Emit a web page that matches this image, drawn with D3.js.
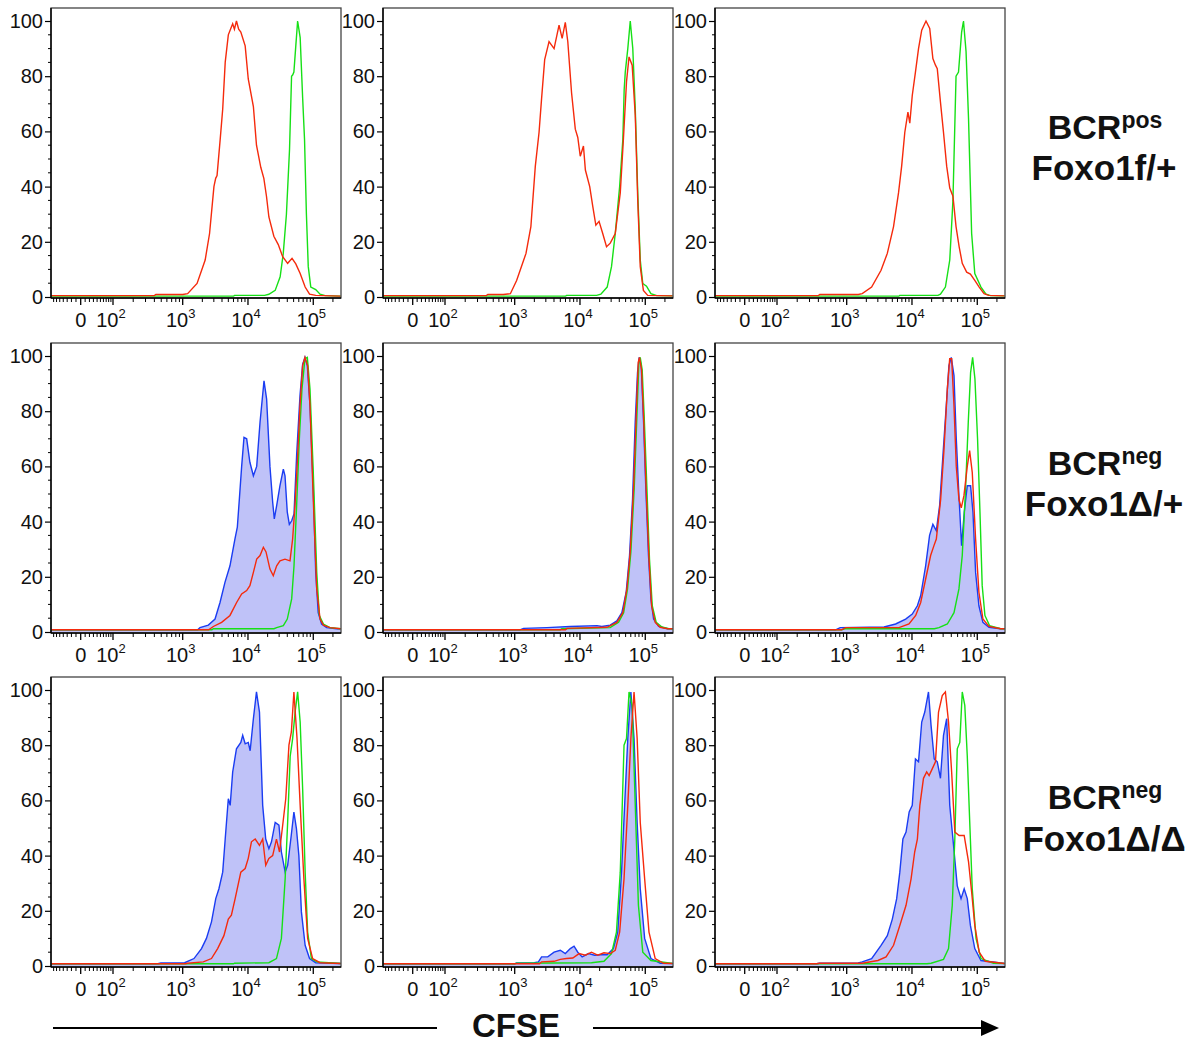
<!DOCTYPE html>
<html>
<head>
<meta charset="utf-8">
<script src="https://cdn.jsdelivr.net/npm/d3@7"></script>
<style>
  body { margin: 0; background: #fff; }
  text { font-family: "Liberation Sans", Arial, sans-serif; }
</style>
</head>
<body>
<svg id="chart"></svg>
<script>
// CFSE histograms, values are [CFSE intensity, % of max]
const r1c1Red = [[-80,0.5],[400,0.5],[420,0.9],[1000,0.9],[1190,1.2],[1660,4.9],[2210,13.4],[2580,23],[3010,40],[3200,43],[3360,44],[3750,57],[4100,68],[4480,85],[5000,95],[5400,97],[5830,99],[6200,97],[6660,100],[7200,97],[7770,96],[9060,91],[10100,79],[12100,69],[13500,55],[15700,47],[17500,43],[19200,36.5],[20900,29],[24900,22],[29100,19],[34000,14.6],[40500,12.2],[47300,14],[54000,12],[63000,8.5],[75100,3.6],[87700,1],[109000,0.6],[190000,0.4],[262144,0.3]];
const r1c1Green = [[-80,0.3],[6000,0.3],[6220,0.6],[18000,0.6],[20900,1],[26100,2.4],[31100,7.3],[34700,15.8],[38800,30],[43300,53.5],[46500,80],[48500,80.5],[50500,81.5],[54000,91],[57600,100],[63000,94],[68800,72],[73500,57],[78500,30],[83800,11],[91600,3.6],[109000,2.7],[127000,1],[152000,0.5],[262144,0.3]];

const r1c2Red = [[-80,0.5],[400,0.5],[420,0.9],[690,0.9],[870,1.2],[1070,6],[1490,15.8],[1770,25.5],[2070,47.4],[2360,59.6],[2580,71.8],[2880,86],[3360,92.5],[4010,90],[4780,98.5],[5330,93.7],[5960,99.5],[6510,92.5],[7430,74],[8480,60.8],[9260,57.8],[10100,51],[11300,54.7],[12100,46],[14100,40],[15700,32.8],[17500,26],[19600,27.4],[22300,23],[25500,18.2],[29100,19.5],[34700,23],[41400,37.7],[46200,57],[51600,78],[56400,87],[63000,84],[70300,65.7],[76700,35],[83800,11],[93600,2.4],[109000,0.6],[262144,0.4]];
const r1c2Green = [[-80,0.3],[6000,0.3],[6220,0.6],[18000,0.6],[20900,1],[26100,3.6],[30400,11],[34700,23],[40500,40],[45300,57],[47500,75],[49400,81.5],[54000,90],[58900,100],[64400,90],[70300,68],[76700,37.7],[83800,13.4],[91600,4.9],[104500,3.9],[122000,1.2],[150000,0.5],[262144,0.4]];

const r1c3Red = [[-80,0.5],[400,0.5],[420,0.9],[1500,0.9],[1730,1.2],[2410,3.6],[3360,9.7],[4190,15.8],[5220,25.5],[6220,37.7],[6950,47.4],[7760,59.6],[8670,67],[9260,63],[10100,73],[11300,81.5],[12600,90],[14100,96.7],[16400,100],[18700,97.3],[20900,86.4],[22900,84],[24400,82.7],[27300,70.6],[30400,59.6],[34000,47.4],[37900,39.5],[42400,36.5],[47300,25.5],[52800,18.2],[58900,12.2],[68800,9],[78500,8.3],[91600,6],[107000,3.6],[127000,1.2],[150000,0.6],[262144,0.4]];
const r1c3Green = [[-80,0.3],[6300,0.3],[6500,0.6],[25000,0.6],[27300,1],[32500,3.6],[37900,13.4],[42400,35],[47300,80],[51600,81.5],[57600,96],[61500,100],[67300,89],[73500,64.5],[82000,23],[91600,8.5],[114000,3.6],[136000,1],[160000,0.5],[262144,0.4]];

const r2c1Blue = [[-80,0.8],[1700,0.8],[1840,1.6],[2470,2.5],[3130,4.7],[3730,10.7],[4440,18],[5300,24],[6320,33.7],[6870,38],[7370,48],[8000,60],[8690,70.5],[9550,70],[10700,61.5],[12100,56.6],[13600,60],[15300,76],[17600,91],[19300,84.4],[21700,60],[23900,47],[25300,41],[27500,45.8],[30900,53],[34800,59],[36900,56.6],[40000,43.4],[43000,39],[46700,40.3],[50700,42.8],[55600,64],[62600,85.6],[68700,97],[74600,99.5],[81100,96.5],[89100,82],[100000,52],[109000,21.6],[119000,7],[134000,2.9],[160000,1.6],[228000,1.2],[262144,1.2]];
const r2c1Red = [[-80,0.8],[2500,0.8],[2950,2],[3950,3.5],[5300,6],[6700,10.7],[8000,13.8],[9550,15],[10700,16.8],[12100,21.6],[13600,26.4],[15300,27.7],[17200,30.7],[18900,29],[21700,22.8],[24400,20.4],[27500,24],[30900,25.8],[36900,26.4],[44000,25.8],[48300,33.7],[52500,45.8],[57000,61.5],[62600,82],[68700,96.5],[74600,99.5],[82000,96.5],[89100,82],[100000,48],[113000,15.6],[127000,4.7],[143000,2.5],[180000,1.6],[262144,1.2]];
const r2c1Green = [[-80,0.8],[2800,0.8],[2950,1.2],[25000,1.2],[27500,1.6],[34800,2.3],[40000,4.7],[46700,12],[50700,24],[55600,45.8],[61200,70],[67100,88],[74600,99],[81100,99.5],[89100,88],[100000,58],[113000,21.6],[124000,6],[143000,2.9],[180000,1.6],[262144,1.2]];

const r2c2Blue = [[-80,0.8],[1200,0.8],[1370,1.3],[3120,1.6],[7100,2],[18200,2.3],[21600,2],[29000,2.5],[36700,4],[43800,7],[51000,14.4],[57400,27.7],[63800,48],[70100,76],[76100,94],[80700,99.5],[86700,96.5],[94200,76],[102000,52],[112000,27.7],[122000,12],[134000,4.7],[160000,2],[220000,1.2],[262144,1.2]];
const r2c2Red = [[-80,0.8],[6000,0.8],[6310,1.3],[25900,1.7],[36700,3.5],[45300,7],[52300,15.6],[58800,29],[66100,52],[72600,78],[78000,97.7],[81500,99.5],[87700,95],[94200,78],[103000,52],[114000,26.4],[125000,9.5],[142000,3.5],[169000,1.7],[220000,1.2],[262144,1.2]];
const r2c2Green = [[-80,0.8],[5000,0.8],[5280,1.2],[29000,1.6],[39000,3.5],[46600,7],[53500,15.6],[60200,29],[67700,52],[74400,78],[79900,97.7],[83700,99.5],[89700,95],[96300,78],[106000,52],[116000,26.4],[128000,9.5],[147000,3.5],[180000,1.8],[230000,1.2],[262144,1.2]];

const r2c3Blue = [[-80,0.8],[700,0.8],[810,1.6],[3730,1.8],[5620,2.9],[8000,4.7],[10100,6.5],[12100,9.5],[13600,13.2],[16200,24],[18600,35],[20900,39],[23600,36.7],[26500,45.8],[29800,64],[33500,82],[36800,96.5],[40000,99.5],[44000,92.9],[47700,70],[52400,49.4],[57500,31.3],[63200,43.4],[70300,53],[79000,53],[85900,43.4],[94300,21.6],[106000,9.5],[122000,3.5],[151000,1.7],[228000,1.2],[262144,1.2]];
const r2c3Red = [[-80,0.8],[850,0.8],[965,1.6],[6330,1.6],[9000,2.9],[11400,6],[13600,10.7],[16200,19.2],[19300,27.7],[21700,31.3],[23600,33.7],[27500,48],[30900,66],[34800,88],[37800,99],[40500,99],[44000,82],[47700,60],[52400,48],[56900,45],[62500,49.4],[70300,60],[76400,65.7],[83800,57.8],[94300,33.7],[106000,14.4],[122000,4.7],[151000,2],[228000,1.2],[262144,1.2]];
const r2c3Green = [[-80,0.8],[850,0.8],[965,1.2],[22000,1.2],[25900,1.6],[34800,2.9],[44000,7],[52400,15.6],[58900,27.7],[66200,52],[72800,76],[79000,94],[84900,99.5],[92100,91.7],[101000,70],[110000,43.4],[119000,16.8],[131000,6],[154000,2.3],[228000,1.2],[262144,1.2]];

const r3c1Blue = [[-80,0.8],[450,0.8],[494,1.1],[1070,1.2],[1490,2.7],[1940,6.3],[2310,10],[2760,16],[3210,24.4],[3590,28],[4100,34],[4480,46],[5000,60.6],[5340,58.2],[5830,70.3],[6660,78.7],[7770,81],[8300,83.6],[9060,80.5],[10100,81],[10800,78],[12100,89.6],[13500,99.3],[15000,92],[16800,58.2],[18700,46],[20900,42.5],[22900,45],[26100,52],[29800,51],[32500,41.3],[37100,34],[40500,36.5],[45300,46],[50500,55.8],[55200,49.8],[60200,40],[65800,19.6],[75100,7.5],[87700,2.7],[109000,1.2],[262144,0.9]];
const r3c1Red = [[-80,0.8],[1100,0.8],[1190,1],[2070,1.5],[2760,2.7],[3430,6.3],[4280,11],[5000,17],[5570,18.4],[6360,24.4],[7770,34],[9060,35.3],[10100,39],[11300,45],[12900,46],[15000,43.7],[16800,46],[18700,36.5],[20900,39],[23900,40],[27300,46],[30400,41.3],[34000,51],[37900,60.6],[42400,80],[46200,84.8],[50500,99.3],[56400,82.4],[63000,58.2],[71800,31.6],[82000,10],[97800,2.7],[127000,1.2],[262144,0.9]];
const r3c1Green = [[-80,0.8],[6000,0.8],[6220,1],[20900,1.2],[27300,2.7],[32500,10],[37100,31.6],[40500,52],[44300,76],[48300,82.4],[52700,92],[57600,99.3],[63000,88.4],[68800,64],[75100,34],[82000,12.3],[93500,2.7],[114000,1.5],[262144,0.9]];

const r3c2Blue = [[-80,0.8],[1000,0.8],[1070,1.1],[2000,1.2],[2310,1.5],[2580,3.3],[3210,3.3],[4010,5],[5000,5.7],[5960,4.5],[7110,6.3],[8110,7.2],[9260,5],[10800,3.3],[13500,4.5],[16800,3.9],[20900,4.1],[26100,4.1],[32500,6.3],[37900,12.3],[43300,34],[48300,58.2],[54000,82.4],[60200,99.3],[67300,82.4],[75100,52],[83800,28],[97800,10],[122000,2.7],[170000,1],[262144,0.9]];
const r3c2Red = [[-80,0.8],[2400,0.8],[2580,1.5],[4010,1.7],[5000,2.4],[6220,2.7],[7760,2.9],[9690,4.5],[12100,3.9],[15000,5],[18700,3.9],[23300,4.8],[29100,4.5],[34700,5.7],[40500,12.3],[47300,31.6],[54000,58.2],[60200,82.4],[67300,99.3],[75100,82.4],[83800,52],[97800,31.6],[114000,12.3],[142000,2.7],[190000,1],[262144,0.9]];
const r3c2Green = [[-80,0.8],[1000,0.8],[1070,1],[15000,1.2],[23300,1.7],[30400,4.5],[36200,12.3],[41400,34],[47300,80],[51600,82.4],[56400,99.3],[63000,94.4],[70300,58.2],[78500,22],[91600,5],[122000,2],[262144,0.9]];

const r3c3Blue = [[-80,0.8],[380,0.8],[414,1],[1500,1.1],[1730,1.5],[2410,2.7],[3360,7.5],[4190,11],[5000,17],[5830,24.4],[6510,34],[7260,46],[8110,48.5],[9060,55.8],[10100,58.2],[11300,75],[12600,74],[14100,88.4],[15700,92],[17900,99.3],[19600,87.2],[21900,75],[24400,74],[27300,68],[30400,83.6],[34000,89.6],[37900,58.2],[42400,46],[49400,29],[56400,24.4],[63000,28],[70300,24.4],[78500,14.7],[91600,6.3],[114000,2],[262144,0.9]];
const r3c3Red = [[-80,0.8],[380,0.8],[414,1],[1730,1],[3010,2],[4010,3.3],[5220,7.5],[6510,14.7],[8110,22],[9690,31.6],[11000,41.3],[12100,46],[13200,58.2],[15000,68],[16800,70.3],[18300,69],[20500,71.5],[22900,74],[25500,92],[29100,98],[32500,99.3],[36300,88.4],[40500,70.3],[45300,48.5],[52800,47.3],[63000,47.3],[73500,37.7],[82000,26.8],[91600,14.7],[107000,5],[133000,1.7],[262144,0.9]];
const r3c3Green = [[-80,0.8],[17000,0.8],[19600,1],[30400,2.4],[36300,6.3],[41400,22],[45300,46],[49400,78.7],[54000,81],[58900,99.3],[64400,94.4],[70300,76],[76700,52],[83800,28],[95700,10],[114000,2.7],[177000,1],[262144,0.9]];

const yTicks = [0, 20, 40, 60, 80, 100];
const xTickValues = [0, 100, 1000, 10000, 100000];
const xTickLabels = [["0", ""], ["10", "2"], ["10", "3"], ["10", "4"], ["10", "5"]];
const rowLabels = [["BCR", "pos", "Foxo1f/+"], ["BCR", "neg", "Foxo1\u0394/+"], ["BCR", "neg", "Foxo1\u0394/\u0394"]];
const axisTitle = "CFSE";

const panels = [
  [{ blue: null, green: r1c1Green, red: r1c1Red }, { blue: null, green: r1c2Green, red: r1c2Red }, { blue: null, green: r1c3Green, red: r1c3Red }],
  [{ blue: r2c1Blue, green: r2c1Green, red: r2c1Red }, { blue: r2c2Blue, green: r2c2Green, red: r2c2Red }, { blue: r2c3Blue, green: r2c3Green, red: r2c3Red }],
  [{ blue: r3c1Blue, green: r3c1Green, red: r3c1Red }, { blue: r3c2Blue, green: r3c2Green, red: r3c2Red }, { blue: r3c3Blue, green: r3c3Green, red: r3c3Red }]
];

const width = 1189, height = 1045;
const colLeft = [51, 383, 715], rowTop = [8, 343, 677];
const pw = 290, ph = 290;

const svg = d3.select("#chart").attr("width", width).attr("height", height);
svg.append("rect").attr("width", width).attr("height", height).attr("fill", "#fff");

// logicle-ish axis: asinh transform, then piecewise linear onto pixels
const T = v => Math.asinh(v / 50);
const tScale = d3.scaleLinear()
  .domain([-80, 0, 100, 1000, 262144].map(T))
  .range([0, 29.7, 62, 131.7, 289.6]);
const X = v => tScale(T(v));
const y = d3.scaleLinear().domain([0, 100]).range([289, 13]);

// minor tick values
const xMinor = [];
for (let v = -70; v <= 90; v += 10) if (v !== 0) xMinor.push(v);
[100, 1000, 10000, 100000].forEach(d => { for (let k = 2; k <= 9; k++) if (d * k <= 262144) xMinor.push(d * k); });
const yMinor = d3.range(5, 100, 5).filter(v => v % 20 !== 0);

const line = d3.line().x(d => X(d[0])).y(d => y(d[1]));
const area = d3.area().x(d => X(d[0])).y0(y(0)).y1(d => y(d[1]));

panels.forEach((row, ri) => {
  row.forEach((p, ci) => {
    const g = svg.append("g").attr("transform", `translate(${colLeft[ci]},${rowTop[ri]})`);
    const clipId = `clip${ri}${ci}`;
    g.append("clipPath").attr("id", clipId).append("rect").attr("width", pw).attr("height", ph);
    const plot = g.append("g").attr("clip-path", `url(#${clipId})`);

    if (p.blue) {
      plot.append("path").datum(p.blue).attr("d", area).attr("fill", "#bfc2f8");
      plot.append("path").datum(p.blue).attr("d", line)
        .attr("fill", "none").attr("stroke", "#1a3cf2").attr("stroke-width", 1.4);
    }
    plot.append("path").datum(p.green).attr("d", line)
      .attr("fill", "none").attr("stroke", "#16e016").attr("stroke-width", 1.4);
    plot.append("path").datum(p.red).attr("d", line)
      .attr("fill", "none").attr("stroke", "#f52a0c").attr("stroke-width", 1.4);

    // frame
    g.append("rect").attr("width", pw).attr("height", ph)
      .attr("fill", "none").attr("stroke", "#444").attr("stroke-width", 1.3);

    // y axis
    const ya = g.append("g").call(d3.axisLeft(y).tickValues(yTicks).tickSize(6).tickPadding(2));
    ya.select(".domain").attr("d", `M0,0V${ph}`).attr("stroke", "#000").attr("stroke-width", 1.4);
    ya.selectAll(".tick line").attr("stroke-width", 1.2);
    ya.selectAll(".tick text").attr("font-size", 20).attr("fill", "#111")
      .style("font-family", '"Liberation Sans", Arial, sans-serif');
    g.selectAll(".ymin").data(yMinor).enter().append("line")
      .attr("x1", -3).attr("x2", 0).attr("y1", d => y(d)).attr("y2", d => y(d))
      .attr("stroke", "#000").attr("stroke-width", 1);

    // x axis
    g.append("line").attr("x1", 0).attr("x2", pw).attr("y1", ph).attr("y2", ph)
      .attr("stroke", "#000").attr("stroke-width", 1.4);
    g.selectAll(".xmin").data(xMinor).enter().append("line")
      .attr("x1", d => X(d)).attr("x2", d => X(d)).attr("y1", ph).attr("y2", ph + 4)
      .attr("stroke", "#000").attr("stroke-width", 1);
    g.selectAll(".xmaj").data(xTickValues).enter().append("line")
      .attr("x1", d => X(d)).attr("x2", d => X(d)).attr("y1", ph).attr("y2", ph + 7)
      .attr("stroke", "#000").attr("stroke-width", 1.3);
    const xl = g.selectAll(".xlab").data(xTickValues).enter().append("text")
      .attr("x", d => X(d) - (d === 0 ? 0 : 2)).attr("y", ph + 29)
      .attr("text-anchor", "middle").attr("font-size", 20).attr("fill", "#111");
    xl.append("tspan").text((d, i) => xTickLabels[i][0]);
    xl.append("tspan").attr("font-size", 13).attr("dy", -9).text((d, i) => xTickLabels[i][1]);
  });
});

// row labels
const labelBase = [[139, 180], [475, 516], [809, 851]];
rowLabels.forEach((lab, ri) => {
  const t = svg.append("text").attr("x", 1105).attr("y", labelBase[ri][0])
    .attr("text-anchor", "middle").attr("font-size", 34).attr("font-weight", "bold").attr("fill", "#111");
  t.append("tspan").text(lab[0]);
  t.append("tspan").attr("font-size", 23).attr("dy", -11).text(lab[1]);
  svg.append("text").attr("x", 1104).attr("y", labelBase[ri][1])
    .attr("text-anchor", "middle").attr("font-size", 35).attr("font-weight", "bold").attr("fill", "#111")
    .text(lab[2]);
});

// bottom axis title with arrow
svg.append("line").attr("x1", 53).attr("x2", 437).attr("y1", 1028).attr("y2", 1028)
  .attr("stroke", "#000").attr("stroke-width", 2);
svg.append("line").attr("x1", 593).attr("x2", 985).attr("y1", 1028).attr("y2", 1028)
  .attr("stroke", "#000").attr("stroke-width", 2);
svg.append("path").attr("d", "M981,1020L999,1028L981,1036Z").attr("fill", "#000");
svg.append("text").attr("x", 516).attr("y", 1037).attr("text-anchor", "middle")
  .attr("font-size", 33).attr("font-weight", "bold").attr("fill", "#111").text(axisTitle);
</script>
</body>
</html>
